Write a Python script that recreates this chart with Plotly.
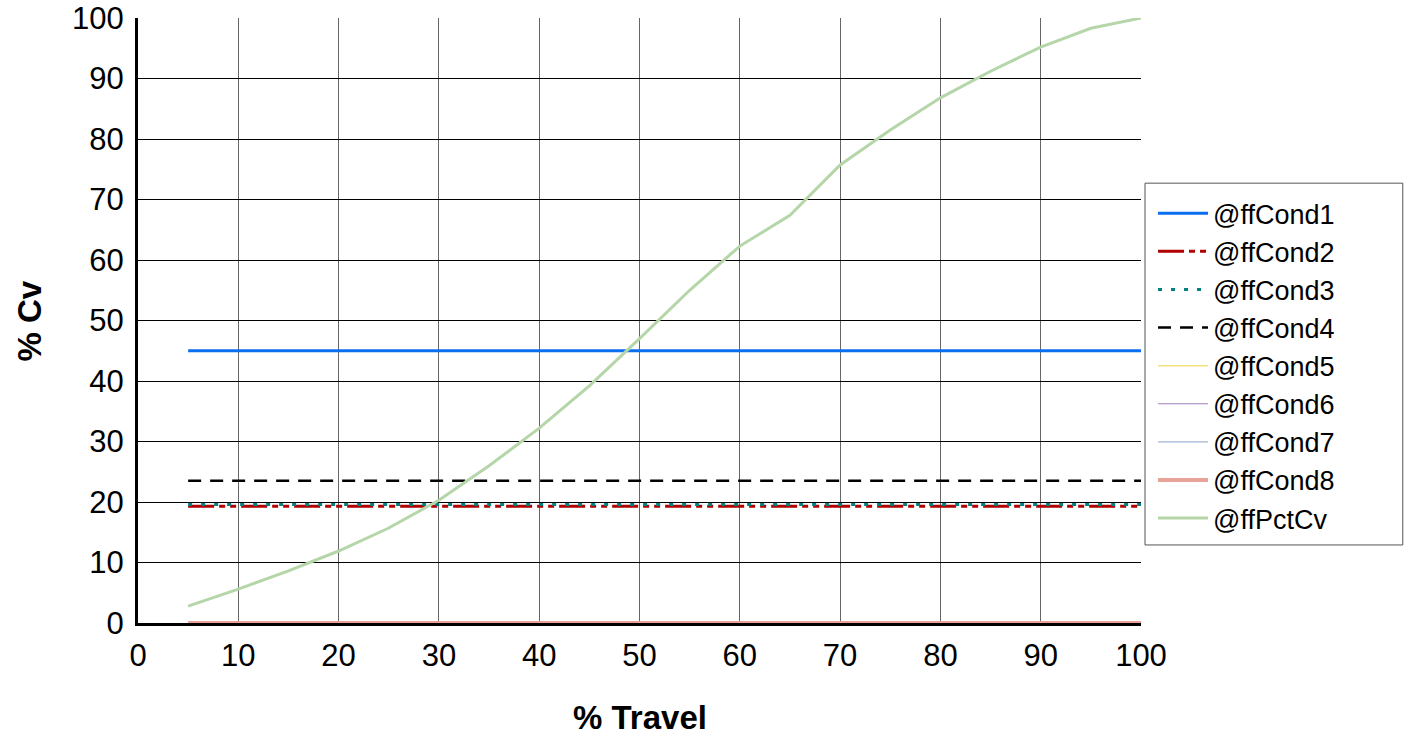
import plotly.graph_objects as go

travel = [5, 10, 15, 20, 25, 30, 35, 40, 45, 50, 55, 60, 65, 70, 75, 80, 85, 90, 95, 100]
pct_cv = [2.8, 5.6, 8.6, 11.9, 15.7, 20.3, 26.0, 32.2, 39.2, 47.0, 55.0, 62.3, 67.4, 75.7, 81.5, 86.8, 91.2, 95.2, 98.3, 100.0]
cond_levels = {
    "@ffCond1": 45.0,
    "@ffCond2": 19.3,
    "@ffCond3": 19.6,
    "@ffCond4": 23.5,
    "@ffCond5": 0.0,
    "@ffCond6": 0.0,
    "@ffCond7": 0.0,
    "@ffCond8": 0.0,
}
x_ticks = list(range(0, 101, 10))
y_ticks = list(range(0, 101, 10))

styles = {
    "@ffCond1": dict(color="#0A6EF0", width=3, dash="solid"),
    "@ffCond2": dict(color="#B00000", width=3, dash="26px,5px,6px,5px,6px,5px"),
    "@ffCond3": dict(color="#008080", width=3, dash="4px,9px"),
    "@ffCond4": dict(color="#000000", width=2.5, dash="13px,9px"),
    "@ffCond5": dict(color="#F2E27A", width=1.5, dash="solid"),
    "@ffCond6": dict(color="#A080C0", width=1.2, dash="solid"),
    "@ffCond7": dict(color="#9FB4D4", width=1.2, dash="solid"),
    "@ffCond8": dict(color="#E8A398", width=4, dash="solid"),
}

fig = go.Figure()
for name, level in cond_levels.items():
    fig.add_trace(go.Scatter(x=travel, y=[level] * len(travel), mode="lines",
                             name=name, line=styles[name], cliponaxis=False))
fig.add_trace(go.Scatter(x=travel, y=pct_cv, mode="lines", name="@ffPctCv",
                         line=dict(color="#B5D6A8", width=3), cliponaxis=False))

font_family = "Liberation Sans, Arial, sans-serif"
fig.update_layout(
    width=1406, height=738,
    margin=dict(l=138, r=265, t=18, b=115),
    paper_bgcolor="white", plot_bgcolor="white",
    font=dict(family=font_family, size=31, color="black"),
    showlegend=True,
    legend=dict(x=1.012, y=0.717, xanchor="left", yanchor="top",
                borderwidth=0, bgcolor="rgba(0,0,0,0)",
                font=dict(size=27), itemwidth=50, tracegroupgap=0),
    shapes=[dict(type="rect", xref="paper", yref="paper",
                 x0=1.004, x1=1.261, y0=0.129, y1=0.727,
                 line=dict(color="#555555", width=1), fillcolor="white",
                 layer="below")],
    xaxis=dict(range=[0, 100], tickvals=x_ticks, showgrid=True,
               gridcolor="#666666", gridwidth=1, zeroline=False,
               showline=True, linecolor="black", linewidth=2.5,
               ticks="", ticklabelstandoff=3, automargin=False,
               layer="below traces",
               ticklabeloverflow="allow", tickfont=dict(size=31)),
    yaxis=dict(range=[0, 100], tickvals=y_ticks, showgrid=True,
               gridcolor="#000000", gridwidth=1, zeroline=False,
               showline=True, linecolor="black", linewidth=3,
               ticks="", ticklabelstandoff=5, automargin=False,
               layer="below traces",
               ticklabeloverflow="allow", tickfont=dict(size=31)),
    annotations=[
        dict(text="<b>% Travel</b>", xref="paper", yref="paper", x=0.5, y=-0.157,
             showarrow=False, font=dict(size=33), xanchor="center", yanchor="middle"),
        dict(text="<b>% Cv</b>", xref="paper", yref="paper", x=-0.1077, y=0.5,
             showarrow=False, font=dict(size=33), textangle=-90,
             xanchor="center", yanchor="middle"),
    ],
)

fig.write_html("out.html", config={"displayModeBar": False},
               post_script="document.body.style.margin='0';document.body.style.overflow='hidden';")
